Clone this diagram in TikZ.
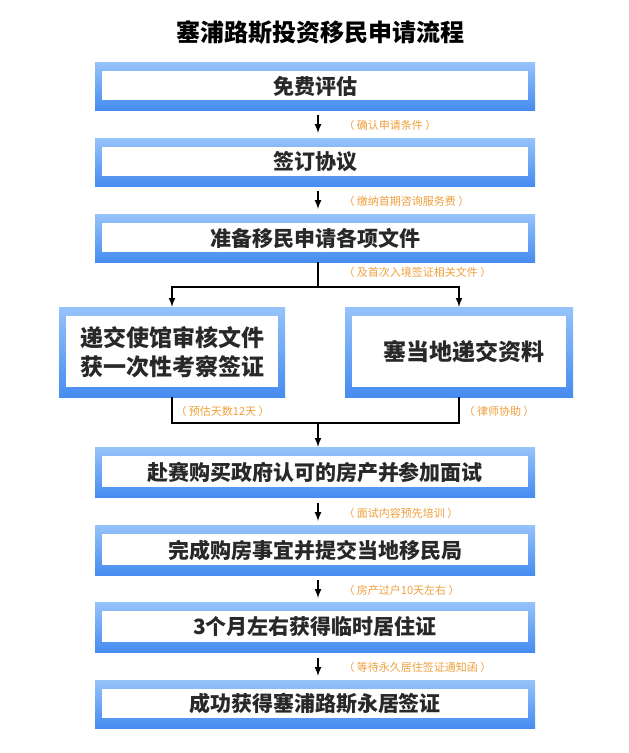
\documentclass[tikz,border=0pt]{standalone}
\usepackage{fontspec}
\setmainfont{Noto Sans CJK SC}
\usetikzlibrary{positioning}
\definecolor{boxblue}{RGB}{70,140,240}
\definecolor{boxlight}{RGB}{150,195,250}
\definecolor{notecol}{RGB}{240,160,60}
\definecolor{textgray}{RGB}{40,40,40}
\tikzset{
  stepbox/.style={rectangle, top color=boxlight, bottom color=boxblue,
    font=\bfseries\fontsize{21}{27}\selectfont, text=textgray, align=center,
    path picture={\fill[white] ([shift={(7pt,-9pt)}]path picture bounding box.north west)
      rectangle ([shift={(-7pt,10pt)}]path picture bounding box.south east);}},
  note/.style={anchor=west, text=notecol, font=\fontsize{11}{13}\selectfont},
  flow/.style={line width=2pt, -latex}
}
\begin{document}
\begin{tikzpicture}[x=1pt,y=-1pt]
\useasboundingbox[fill=white] (0,0) rectangle (629,753);
\node[font=\bfseries\fontsize{24}{28}\selectfont] (title) at (320,32) {塞浦路斯投资移民申请流程};
% main steps
\node[stepbox, minimum width=440pt, minimum height=48pt] (s1) at (315,86) {免费评估};
\node[stepbox, minimum width=440pt, minimum height=48pt] (s2) at (315,162) {签订协议};
\node[stepbox, minimum width=440pt, minimum height=48pt] (s3) at (315,238) {准备移民申请各项文件};
\node[stepbox, minimum width=226pt, minimum height=90pt, font=\bfseries\fontsize{23}{29}\selectfont] (s4a) at (172,352) {递交使馆审核文件\\获一次性考察签证};
\node[stepbox, minimum width=228pt, minimum height=90pt, font=\bfseries\fontsize{23}{29}\selectfont] (s4b) at (459,352) {\hspace{10pt}塞当地递交资料};
\node[stepbox, minimum width=440pt, minimum height=50pt] (s5) at (315,472) {赴赛购买政府认可的房产并参加面试};
\node[stepbox, minimum width=440pt, minimum height=50pt] (s6) at (315,550) {完成购房事宜并提交当地移民局};
\node[stepbox, minimum width=440pt, minimum height=50pt] (s7) at (315,627) {3个月左右获得临时居住证};
\node[stepbox, minimum width=440pt, minimum height=48pt] (s8) at (315,704) {成功获得塞浦路斯永居签证};
% connectors
\coordinate (split) at (318,287);
\coordinate (join) at (318,423);
\draw[flow] (318,115) -- (318,133);
\draw[flow] (318,191) -- (318,209);
\draw[line width=2pt] (s3.south -| split) -- (split);
\draw[flow] (split) -| (s4a.north);
\draw[flow] (split) -| (s4b.north);
\draw[line width=2pt] (s4a.south) |- (join) -| (s4b.south);
\draw[flow] (join) -- (s5.north -| join);
\draw[flow] (318,503) -- (318,521);
\draw[flow] (318,580) -- (318,598);
\draw[flow] (318,658) -- (318,676);
% notes
\node[note] (n1) at (340,125) {（ 确认申请条件 ）};
\node[note] (n2) at (340,201) {（ 缴纳首期咨询服务费 ）};
\node[note] (n3) at (340,272) {（ 及首次入境签证相关文件 ）};
\node[note] (n4) at (172,411) {（ 预估天数12天 ）};
\node[note] (n5) at (460,411) {（ 律师协助 ）};
\node[note] (n6) at (340,513) {（ 面试内容预先培训 ）};
\node[note] (n7) at (340,590) {（ 房产过户10天左右 ）};
\node[note] (n8) at (340,667) {（ 等待永久居住签证通知函 ）};
\end{tikzpicture}
\end{document}
